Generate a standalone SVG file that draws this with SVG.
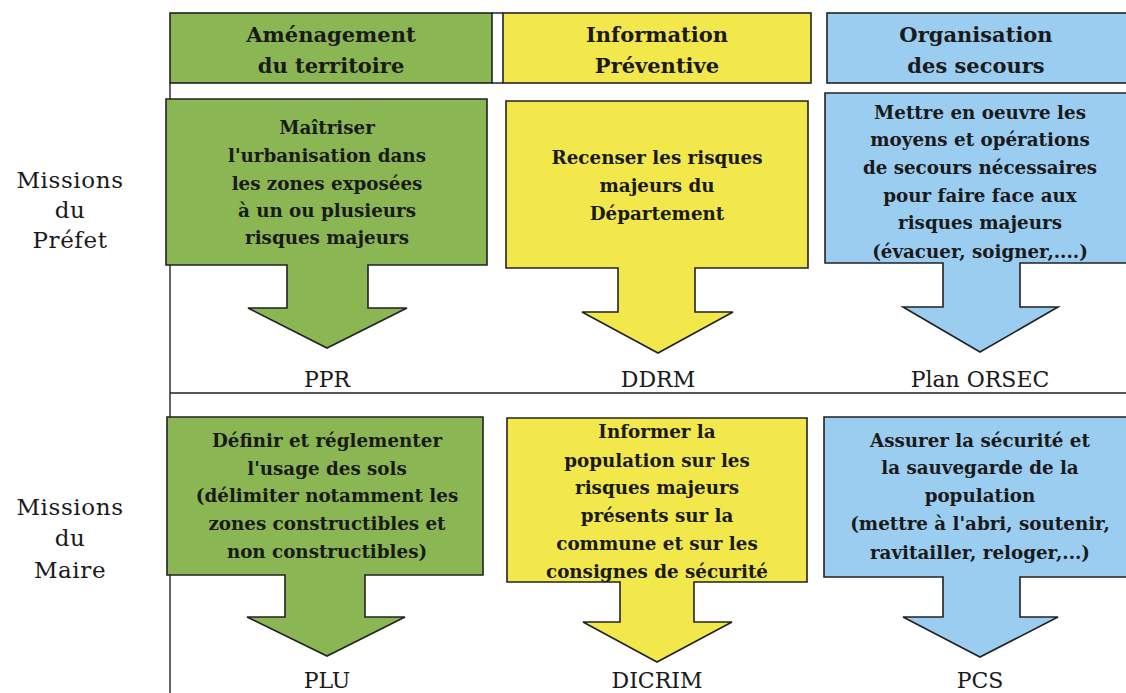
<svg xmlns="http://www.w3.org/2000/svg" width="1126" height="693" viewBox="0 0 1126 693">
<style>
.g{fill:#8ab653;stroke:#222;stroke-width:1.6}
.y{fill:#f3e84b;stroke:#222;stroke-width:1.6}
.b{fill:#9bcdf1;stroke:#222;stroke-width:1.6}
.ln{stroke:#222;stroke-width:1.4;fill:none}
text{font-family:"DejaVu Serif","Liberation Serif",serif;fill:#1a1a1a;text-anchor:middle}
.h{font-size:21px;font-weight:bold}
.t{font-size:18.3px;font-weight:bold}
.l{font-size:22px}
.s{font-size:23px;letter-spacing:0.6px}
</style>
<rect width="1126" height="693" fill="#fff"/>
<g id="frame">
<path class="ln" d="M170,83 V693 M170,393 H1126 M492,13 H503 M492,83 H503"/>
</g>
<g id="header-amenagement">
<rect class="g" x="170" y="13" width="322" height="70"/>
<text class="h" x="331" y="42">Aménagement</text>
<text class="h" x="331" y="73">du territoire</text>
</g>
<g id="header-information">
<rect class="y" x="503" y="13" width="308" height="70"/>
<text class="h" x="657" y="42">Information</text>
<text class="h" x="657" y="73">Préventive</text>
</g>
<g id="header-organisation">
<rect class="b" x="827" y="13" width="303" height="70"/>
<text class="h" x="976" y="42">Organisation</text>
<text class="h" x="976" y="73">des secours</text>
</g>
<g id="label-prefet">
<text class="s" x="70" y="188">Missions</text>
<text class="s" x="70" y="218">du</text>
<text class="s" x="70" y="248">Préfet</text>
</g>
<g id="label-maire">
<text class="s" x="70" y="515">Missions</text>
<text class="s" x="70" y="546">du</text>
<text class="s" x="70" y="578">Maire</text>
</g>
<g id="prefet-amenagement">
<path class="g" d="M166,99 H487 V265 H368 V308 H407 L327,348 L248,308 H287 V265 H166 Z"/>
<text class="t" x="327" y="134">Maîtriser</text>
<text class="t" x="327" y="162">l'urbanisation dans</text>
<text class="t" x="327" y="190">les zones exposées</text>
<text class="t" x="327" y="217">à un ou plusieurs</text>
<text class="t" x="327" y="244">risques majeurs</text>
</g>
<g id="prefet-information">
<path class="y" d="M506,101 H808 V268 H695 V312 H733 L658,353 L582,312 H618 V268 H506 Z"/>
<text class="t" x="657" y="164">Recenser les risques</text>
<text class="t" x="657" y="192">majeurs du</text>
<text class="t" x="657" y="220">Département</text>
</g>
<g id="prefet-organisation">
<path class="b" d="M825,93 H1130 V263 H1020 V307 H1058 L980,352 L903,307 H943 V263 H825 Z"/>
<text class="t" x="980" y="119">Mettre en oeuvre les</text>
<text class="t" x="980" y="146">moyens et opérations</text>
<text class="t" x="980" y="174">de secours nécessaires</text>
<text class="t" x="980" y="202">pour faire face aux</text>
<text class="t" x="980" y="229">risques majeurs</text>
<text class="t" x="980" y="258">(évacuer, soigner,....)</text>
</g>
<g id="ppr"><text class="l" x="327" y="387">PPR</text></g>
<g id="ddrm"><text class="l" x="658" y="387">DDRM</text></g>
<g id="orsec"><text class="l" x="980" y="387">Plan ORSEC</text></g>
<g id="maire-amenagement">
<path class="g" d="M167,417 H483 V575 H365 V617 H405 L327,656 L247,617 H285 V575 H167 Z"/>
<text class="t" x="327" y="447">Définir et réglementer</text>
<text class="t" x="327" y="475">l'usage des sols</text>
<text class="t" x="327" y="502">(délimiter notamment les</text>
<text class="t" x="327" y="530">zones constructibles et</text>
<text class="t" x="327" y="558">non constructibles)</text>
</g>
<g id="maire-information">
<path class="y" d="M507,418 H807 V582 H694 V622 H732 L657,662 L583,622 H620 V582 H507 Z"/>
<text class="t" x="657" y="438">Informer la</text>
<text class="t" x="657" y="467">population sur les</text>
<text class="t" x="657" y="494">risques majeurs</text>
<text class="t" x="657" y="522">présents sur la</text>
<text class="t" x="657" y="550">commune et sur les</text>
<text class="t" x="657" y="578">consignes de sécurité</text>
</g>
<g id="maire-organisation">
<path class="b" d="M824,417 H1130 V577 H1020 V617 H1058 L980,657 L903,617 H943 V577 H824 Z"/>
<text class="t" x="980" y="447">Assurer la sécurité et</text>
<text class="t" x="980" y="474">la sauvegarde de la</text>
<text class="t" x="980" y="502">population</text>
<text class="t" x="980" y="530">(mettre à l'abri, soutenir,</text>
<text class="t" x="980" y="559">ravitailler, reloger,...)</text>
</g>
<g id="plu"><text class="l" x="327" y="688">PLU</text></g>
<g id="dicrim"><text class="l" x="657" y="688">DICRIM</text></g>
<g id="pcs"><text class="l" x="980" y="688">PCS</text></g>
</svg>
